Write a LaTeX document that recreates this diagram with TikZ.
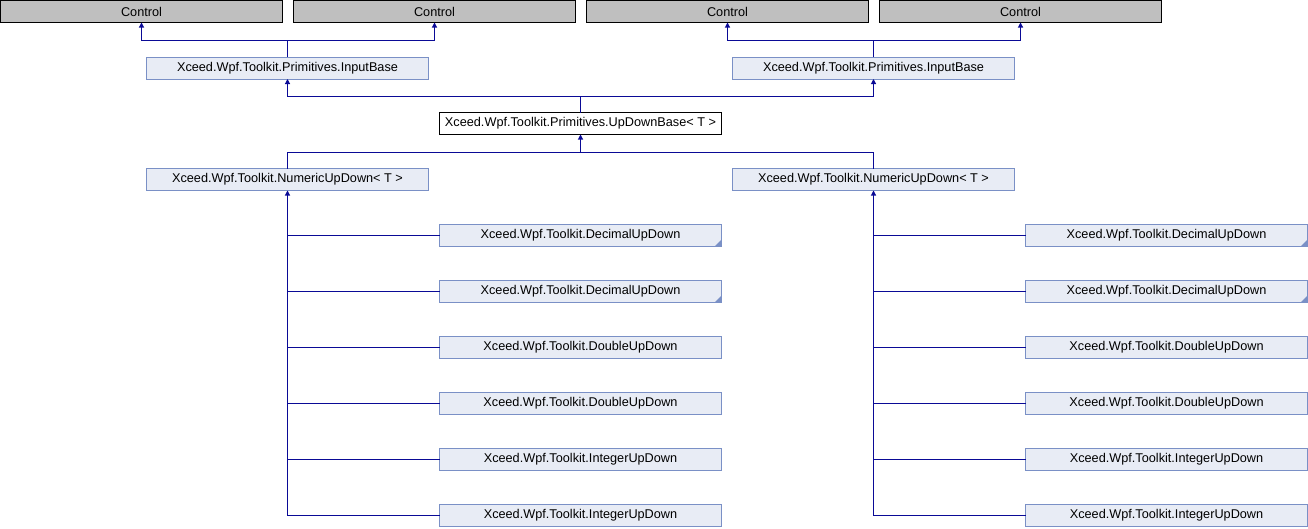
\documentclass[tikz,border=0pt]{standalone}
\usepackage{fontspec}
\setmainfont{Liberation Sans}
\usetikzlibrary{arrows.meta}
\definecolor{ctlfill}{RGB}{191,191,191}
\definecolor{boxfill}{RGB}{232,236,245}
\definecolor{boxline}{RGB}{122,144,198}
\definecolor{edgecol}{RGB}{10,10,150}
\tikzset{
  base/.style={minimum width=282pt, minimum height=22pt, inner sep=0pt, outer sep=0pt, line width=1pt, font=\fontsize{12.7}{14}\selectfont},
  ctl/.style={base, draw=black, fill=ctlfill},
  cls/.style={base, draw=boxline, fill=boxfill},
  cur/.style={base, draw=black, fill=white},
  edge/.style={draw=edgecol, line width=1.1pt},
  arr/.style={edge, -{Triangle[length=5pt,width=5pt]}},
}
\begin{document}
\begin{tikzpicture}[x=1pt,y=-1pt]
\useasboundingbox (0,0) rectangle (1308,528);
% top row
\node[ctl] (c1) at (141.5,11.5) {Control};
\node[ctl] (c2) at (434.5,11.5) {Control};
\node[ctl] (c3) at (727.5,11.5) {Control};
\node[ctl] (c4) at (1020.5,11.5) {Control};
% input base
\node[cls] (ib1) at (287.5,68) {Xceed.Wpf.Toolkit.Primitives.InputBase};
\node[cls] (ib2) at (873.5,68) {Xceed.Wpf.Toolkit.Primitives.InputBase};
% updownbase
\node[cur] (udb) at (580.5,123.5) {Xceed.Wpf.Toolkit.Primitives.UpDownBase< T >};
% numeric
\node[cls] (n1) at (287.5,179.5) {Xceed.Wpf.Toolkit.NumericUpDown< T >};
\node[cls] (n2) at (873.5,179.5) {Xceed.Wpf.Toolkit.NumericUpDown< T >};
% children left
\node[cls] (a1) at (580.5,235.5) {Xceed.Wpf.Toolkit.DecimalUpDown};
\node[cls] (a2) at (580.5,291.5) {Xceed.Wpf.Toolkit.DecimalUpDown};
\node[cls] (a3) at (580.5,347.5) {Xceed.Wpf.Toolkit.DoubleUpDown};
\node[cls] (a4) at (580.5,403.5) {Xceed.Wpf.Toolkit.DoubleUpDown};
\node[cls] (a5) at (580.5,459.5) {Xceed.Wpf.Toolkit.IntegerUpDown};
\node[cls] (a6) at (580.5,515.5) {Xceed.Wpf.Toolkit.IntegerUpDown};
% children right
\node[cls] (b1) at (1166.5,235.5) {Xceed.Wpf.Toolkit.DecimalUpDown};
\node[cls] (b2) at (1166.5,291.5) {Xceed.Wpf.Toolkit.DecimalUpDown};
\node[cls] (b3) at (1166.5,347.5) {Xceed.Wpf.Toolkit.DoubleUpDown};
\node[cls] (b4) at (1166.5,403.5) {Xceed.Wpf.Toolkit.DoubleUpDown};
\node[cls] (b5) at (1166.5,459.5) {Xceed.Wpf.Toolkit.IntegerUpDown};
\node[cls] (b6) at (1166.5,515.5) {Xceed.Wpf.Toolkit.IntegerUpDown};
% truncation marks
\foreach \n in {a1,a2,b1,b2}{
  \fill[boxline] (\n.south east) -- ++(-7,0) -- ++(7,-7) -- cycle;
}
% junctions
\coordinate (j1) at (287.5,40.5);
\coordinate (j2) at (873.5,40.5);
\coordinate (j3) at (580.5,96.5);
\coordinate (j4) at (580.5,152.5);
% edges to Control
\draw[edge] (ib1.north) -- (j1);
\draw[arr] (j1) -| (c1.south);
\draw[arr] (j1) -| (c2.south);
\draw[edge] (ib2.north) -- (j2);
\draw[arr] (j2) -| (c3.south);
\draw[arr] (j2) -| (c4.south);
% edges to InputBase
\draw[edge] (udb.north) -- (j3);
\draw[arr] (j3) -| (ib1.south);
\draw[arr] (j3) -| (ib2.south);
% edges to UpDownBase
\draw[arr] (j4) -- (udb.south);
\draw[edge] (j4) -| (n1.north);
\draw[edge] (j4) -| (n2.north);
% children edges
\draw[arr] (n1.south |- a6.west) -- (n1.south);
\draw[arr] (n2.south |- b6.west) -- (n2.south);
\foreach \c in {a1,a2,a3,a4,a5,a6}{
  \draw[edge] (n1.south |- \c.west) -- (\c.west);
}
\foreach \c in {b1,b2,b3,b4,b5,b6}{
  \draw[edge] (n2.south |- \c.west) -- (\c.west);
}
\end{tikzpicture}
\end{document}
